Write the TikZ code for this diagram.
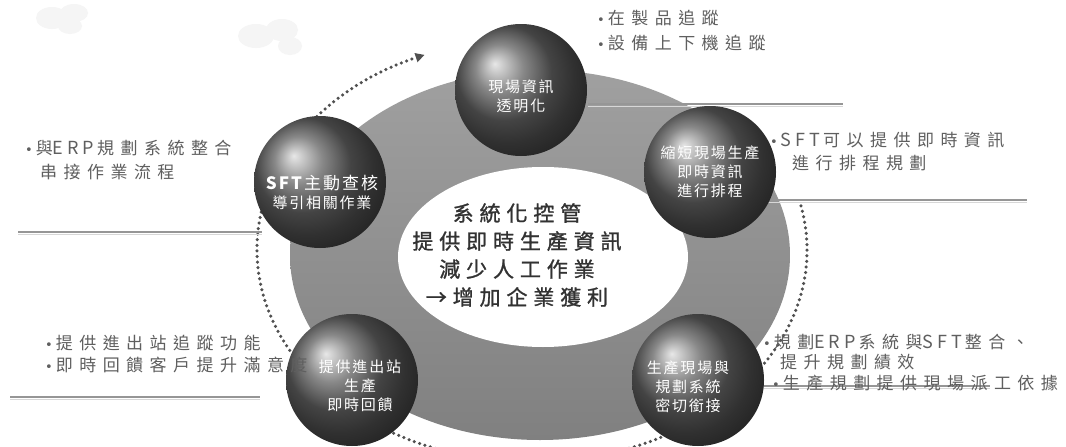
\documentclass[tikz,border=0pt]{standalone}
\usepackage{fontspec}
\usetikzlibrary{arrows.meta}
\newfontfamily\cjk[LetterSpace=38]{Noto Sans CJK TC}
\newfontfamily\latn[LetterSpace=22]{Noto Sans CJK TC}
\newfontfamily\bulletfont{DejaVu Sans}
\newfontfamily\cjkball[LetterSpace=12]{Noto Sans CJK TC}
\newfontfamily\cjkcenter[LetterSpace=28,FakeBold=1.2]{Noto Sans CJK TC}
\newcommand\bt{{\bulletfont\fontsize{13}{13}\selectfont •}\hspace{3pt}}
\newcommand\lt[1]{{\latn\fontsize{18}{20}\selectfont #1}\hspace{3pt}}
\definecolor{txtgray}{RGB}{95,95,95}
\definecolor{centertxt}{RGB}{50,50,50}
\definecolor{disktop}{RGB}{160,160,160}
\definecolor{diskbot}{RGB}{128,128,128}
\definecolor{dotgray}{RGB}{80,80,80}
\definecolor{linegray}{RGB}{150,150,150}
\definecolor{lineshadow}{RGB}{215,215,215}
\definecolor{cloudgray}{RGB}{245,245,245}
\tikzset{
  sidetxt/.style={font=\cjk\fontsize{17}{20}\selectfont, text=txtgray, anchor=west, inner sep=0pt},
  balltxt/.style={font=\cjkball\fontsize{15}{19}\selectfont, text=white, align=center, inner sep=0pt},
  sphere/.style={ball color=black!62, circle, minimum size=132pt, inner sep=0pt},
  underline/.style={draw=linegray, line width=1.4pt},
  undershadow/.style={draw=lineshadow, line width=1pt},
  cycle arrow/.style={dotgray, line width=3.5pt, line cap=round, dash pattern=on 0pt off 5.6pt, -{Triangle[length=9pt,width=9pt]}},
}
\begin{document}
\begin{tikzpicture}[x=1pt,y=-1pt]
\useasboundingbox (0,0) rectangle (1066,447);
\clip (0,0) rectangle (1066,447);
\fill[white] (0,0) rectangle (1066,447);
% clouds
\fill[cloudgray] (52,18) ellipse (16 and 11) (74,13) ellipse (14 and 9) (70,26) ellipse (12 and 8);
\fill[cloudgray] (256,36) ellipse (18 and 12) (282,30) ellipse (16 and 11) (290,46) ellipse (12 and 9);
% big gray disk
\shade[top color=disktop, bottom color=diskbot] (540,255) ellipse (250 and 185);
% white center
\fill[white] (543,257) ellipse (145 and 90);
\node[font=\cjkcenter\fontsize{21}{28}\selectfont, text=centertxt, align=center, inner sep=0pt] (center) at (517,255)
  {系統化控管\\提供即時生產資訊\\減少人工作業\\→增加企業獲利};
% dotted cycle arrow
\draw[cycle arrow] (532,250) ++(-12:275 and 212) arc[start angle=-12, end angle=247, x radius=275, y radius=212];
% underlines
\coordinate (l1a) at (588,104); \coordinate (l1b) at (843,104);
\coordinate (l2a) at (18,232);  \coordinate (l2b) at (262,232);
\coordinate (l3a) at (768,200); \coordinate (l3b) at (1027,200);
\coordinate (l4a) at (10,397);  \coordinate (l4b) at (260,397);
\coordinate (l5a) at (745,386); \coordinate (l5b) at (990,386);
\foreach \a/\b in {l1a/l1b,l2a/l2b,l3a/l3b,l4a/l4b,l5a/l5b}{
  \draw[undershadow] ([yshift=-2.2pt]\a) -- ([yshift=-2.2pt]\b);
  \draw[underline] (\a) -- (\b);
}
% spheres
\node[sphere] (b1) at (521,90) {};
\node[sphere] (b2) at (320,182) {};
\node[sphere] (b3) at (710,172) {};
\node[sphere] (b4) at (352,380) {};
\node[sphere] (b5) at (698,380) {};
\node[balltxt] (b1t) at ([yshift=-6pt]b1) {現場資訊\\透明化};
\node[balltxt] (b2t) at ([xshift=2pt,yshift=-10pt]b2) {\fontsize{17}{19}\selectfont\textbf{SFT}主動查核\\導引相關作業};
\node[balltxt] (b3t) at (b3) {縮短現場生產\\即時資訊\\進行排程};
\node[balltxt] (b4t) at ([xshift=8pt,yshift=-6pt]b4) {提供進出站\\生產\\即時回饋};
\node[balltxt] (b5t) at ([xshift=-10pt,yshift=-7pt]b5) {生產現場與\\規劃系統\\密切銜接};
% side texts
\node[sidetxt] (t1a) at (597,18) {\bt 在製品追蹤};
\node[sidetxt] (t1b) at (597,43) {\bt 設備上下機追蹤};
\node[sidetxt] (t2a) at (25,148) {\bt 與\lt{ERP}規劃系統整合};
\node[sidetxt] (t2b) at (40,172) {串接作業流程};
\node[sidetxt] (t3a) at (770,140) {\bt\lt{SFT}可以提供即時資訊};
\node[sidetxt] (t3b) at (792,163) {進行排程規劃};
\node[sidetxt] (t4a) at (45,343) {\bt 提供進出站追蹤功能};
\node[sidetxt] (t4b) at (45,365) {\bt 即時回饋客戶提升滿意度};
\node[sidetxt] (t5a) at (763,342) {\bt 規劃\lt{ERP}系統與\lt{SFT}整合、};
\node[sidetxt] (t5b) at (780,362) {提升規劃績效};
\node[sidetxt] (t5c) at (772,383) {\bt 生產規劃提供現場派工依據};
\end{tikzpicture}
\end{document}
